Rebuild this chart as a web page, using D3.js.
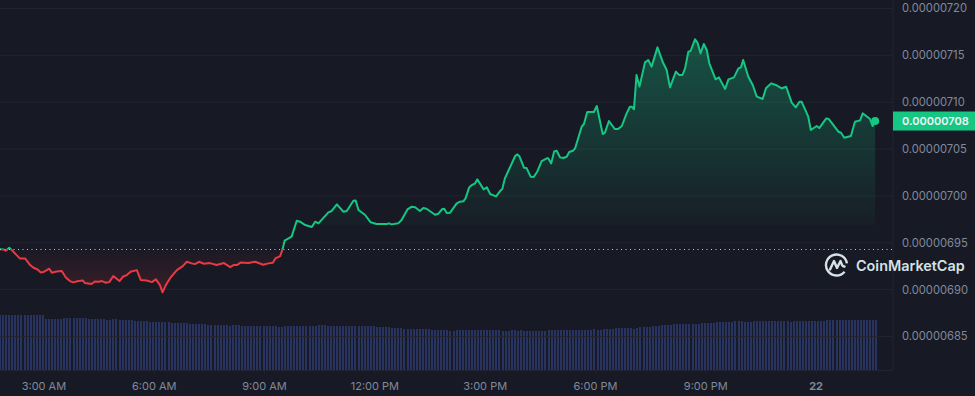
<!DOCTYPE html>
<html>
<head>
<meta charset="utf-8">
<script src="https://cdn.jsdelivr.net/npm/d3@7"></script>
<style>
  html, body { margin: 0; padding: 0; background: #171924; overflow: hidden; }
  text { font-family: Inter, "Noto Sans", sans-serif; }
</style>
</head>
<body>
<div id="chart"></div>
<script>
// hours since midnight of the 21st (24 = midnight, the "22" tick)
const times = [
  1.82,1.91,1.98,2.07,2.16,2.27,2.36,2.50,2.64,2.73,2.84,2.93,3.00,3.16,3.23,3.36,3.50,3.61,3.72,3.81,
  3.95,4.07,4.13,4.22,4.31,4.40,4.51,4.59,4.70,4.79,4.90,5.07,5.16,5.27,5.37,5.54,5.65,5.81,5.95,6.06,
  6.17,6.24,6.33,6.44,6.63,6.79,6.90,7.03,7.12,7.23,7.37,7.53,7.71,7.91,8.08,8.17,8.26,8.37,8.57,8.76,
  8.98,9.12,9.24,9.31,9.44,9.51,9.56,9.75,9.89,9.98,10.12,10.30,10.39,10.48,10.75,10.84,10.98,11.16,11.25,11.43,
  11.49,11.57,11.75,11.90,12.06,12.34,12.40,12.47,12.65,12.74,12.90,13.02,13.11,13.24,13.33,13.42,13.65,13.74,13.85,13.90,
  13.97,14.06,14.24,14.33,14.42,14.48,14.58,14.65,14.74,14.80,14.97,15.06,15.15,15.31,15.42,15.48,15.55,15.83,15.89,15.94,
  16.07,16.14,16.25,16.33,16.43,16.55,16.69,16.73,16.81,16.89,16.96,17.05,17.14,17.23,17.30,17.40,17.46,17.57,17.64,17.70,
  17.79,17.97,18.05,18.21,18.27,18.38,18.54,18.63,18.73,18.86,18.95,19.00,19.06,19.13,19.21,19.36,19.45,19.54,19.70,19.84,
  19.95,20.04,20.20,20.29,20.38,20.45,20.54,20.60,20.72,20.79,20.87,20.96,21.04,21.11,21.28,21.37,21.54,21.63,21.78,21.90,
  21.97,22.03,22.17,22.29,22.40,22.56,22.65,22.79,22.94,23.08,23.20,23.35,23.46,23.56,23.62,23.80,23.87,24.03,24.10,24.29,
  24.36,24.62,24.69,24.78,24.96,25.07,25.21,25.28,25.48,25.55,25.62
];
// price in units of 0.00000001
const prices = [
  694.27,694.24,694.10,694.42,694.10,693.63,693.28,693.28,692.57,692.28,692.10,691.78,691.82,692.18,691.75,691.89,691.93,691.25,690.86,690.72,
  690.86,690.93,690.65,690.61,690.54,690.82,690.79,690.86,690.68,690.75,691.39,690.86,691.32,691.50,691.86,692.03,690.97,690.93,690.75,691.04,
  690.43,689.65,690.43,691.14,692.03,692.46,692.92,692.75,692.67,692.92,692.71,692.78,692.57,692.78,692.35,692.57,692.57,692.85,692.78,692.92,
  692.60,692.75,692.82,693.28,693.53,694.35,695.17,695.60,697.30,697.20,696.84,696.63,697.20,697.02,698.19,698.34,699.05,698.26,698.34,699.44,
  699.47,698.44,697.91,697.13,696.95,696.95,697.02,696.91,697.02,697.38,698.51,698.80,698.73,698.34,698.66,698.58,697.94,698.05,698.55,698.58,
  698.12,698.16,699.15,699.33,699.37,699.69,700.86,701.11,701.29,701.71,700.65,700.86,700.15,699.90,700.47,700.68,701.82,704.21,704.38,704.21,
  702.96,702.92,702.00,701.96,702.53,703.67,703.96,703.96,703.42,704.70,704.77,704.06,703.99,704.13,704.63,704.77,705.02,706.45,707.34,707.62,
  708.90,708.90,709.54,706.55,706.70,707.94,707.09,707.09,707.41,708.76,709.47,709.47,709.19,712.85,711.61,714.20,714.45,713.74,715.80,714.27,
  713.38,711.53,713.21,712.85,712.85,713.56,715.34,715.41,716.66,716.30,715.16,716.16,715.52,714.10,712.39,712.60,711.36,712.39,712.60,713.56,
  713.67,714.45,712.67,711.78,710.54,710.29,711.43,711.96,711.75,711.43,711.60,709.90,709.40,710.00,710.00,708.40,706.98,707.41,707.19,708.22,
  708.15,706.80,706.69,706.16,706.34,707.87,708.01,708.76,708.15,707.41,707.94
];
// one volume reading every 5 minutes, relative scale
const volumes = [
  55,55,55,55,55,55,55,55,55,55,55,55,55,55,55,51,51,51,51,51,51,52,52,52,52,52,52,52,52,51,51,51,51,51,51,50.5,50.5,51,51,50,50,50,50,50,49,49,49,49,49,
  48,48,48,48,48,48,48,47,47,47,47,47,47,46,46,46,46,46,46,45,45,45,45,45,45,45,44,45,45,45,44,44,44,44,44,44,44,44,44,44,44,44,43,43,44,44,44,44,44,
  44,44,44,44,44,44,45,45,45,44,44,44,44,44,44,44,44,44,44,44,44,44,44,44,44,43,43,43,43,43,42,42,42,42,41,41,41,41,41,41,41,41,41,40,40,40,40,40,40,
  39,39,40,40,40,40,40,40,40,40,40,40,40,40,40,40,40,39,39,39,40,40,39,40,39,39,39,39,39,39,39,39,40,40,40,40,40,40,40,40,40,40,40,40,40,40,40,41,40,
  40,41,41,41,41,42,42,42,42,42,42,41,42,43,43,43,43,44,44,44,45,45,45,45,46,46,46,46,46,46,46,46,46,47,47,47,47,47,48,48,48,48,48,48,49,49,49,48,48,
  48,49,49,49,49,49,49,49,49,49,49,49,49,48,49,49,49,49,49,49,49,49,49,49,49,50,50,50,50,50,50,50,50,50,50,50,50,50,50,50,50,50
];
const volumeStart = 1.82;

const basePrice = 694.23;
const priceTicks = [685, 690, 695, 700, 705, 710, 715, 720];
const timeTicks = [3, 6, 9, 12, 15, 18, 21, 24];
const timeLabels = ["3:00 AM", "6:00 AM", "9:00 AM", "12:00 PM", "3:00 PM", "6:00 PM", "9:00 PM", "22"];

let width = 975, height = 396;
let plotRight = 893, plotBottom = 370;
let green = "#16c784", red = "#ea3943";

let x = d3.scaleLinear().domain([3, 24]).range([43.4, 815.6]);
let y = d3.scaleLinear().domain([685, 720]).range([336, 8]);
let yVol = d3.scaleLinear().domain([0, 55]).range([plotBottom, 315]);
let fmt = v => (v * 1e-8).toFixed(8);

let points = times.map((t, i) => ({ t: t, p: prices[i] }));
let last = points[points.length - 1];

const svg = d3.select("#chart").append("svg")
  .attr("width", width)
  .attr("height", height)
  .style("display", "block")
  .style("background", "#171924");

const defs = svg.append("defs");

defs.append("clipPath").attr("id", "clipAbove").append("rect")
  .attr("x", 0).attr("y", 0).attr("width", plotRight).attr("height", y(basePrice));
defs.append("clipPath").attr("id", "clipBelow").append("rect")
  .attr("x", 0).attr("y", y(basePrice)).attr("width", plotRight).attr("height", plotBottom - y(basePrice));

let upGrad = defs.append("linearGradient").attr("id", "upFill")
  .attr("gradientUnits", "userSpaceOnUse")
  .attr("x1", 0).attr("x2", 0).attr("y1", 40).attr("y2", y(basePrice));
upGrad.append("stop").attr("offset", "0%").attr("stop-color", green).attr("stop-opacity", 0.33);
upGrad.append("stop").attr("offset", "88%").attr("stop-color", green).attr("stop-opacity", 0.03);
upGrad.append("stop").attr("offset", "88.5%").attr("stop-color", green).attr("stop-opacity", 0);

let downGrad = defs.append("linearGradient").attr("id", "downFill")
  .attr("gradientUnits", "userSpaceOnUse")
  .attr("x1", 0).attr("x2", 0).attr("y1", y(basePrice)).attr("y2", 292);
downGrad.append("stop").attr("offset", "0%").attr("stop-color", red).attr("stop-opacity", 0.02);
downGrad.append("stop").attr("offset", "100%").attr("stop-color", red).attr("stop-opacity", 0.16);

// volume bars, snapped to whole pixels so the gaps stay visible
svg.append("g").selectAll("rect")
  .data(volumes)
  .join("rect")
  .attr("x", (d, i) => Math.round(x(volumeStart + i / 12) - 1))
  .attr("y", d => Math.round(yVol(d)))
  .attr("width", 2)
  .attr("height", d => plotBottom - Math.round(yVol(d)))
  .attr("fill", "#28345f");

// grid + price labels
const yAxis = d3.axisRight(y).tickValues(priceTicks).tickFormat(fmt).tickSize(0).tickPadding(9);
const yG = svg.append("g").attr("transform", "translate(" + plotRight + ",0)").call(yAxis);
yG.select(".domain").remove();
yG.selectAll("text").attr("fill", "#808a9d").style("font-size", "11.2px").attr("dy", "0.35em");
yG.selectAll(".tick").append("line")
  .attr("x1", -plotRight).attr("x2", 0)
  .attr("stroke", "#222531");

// frame
svg.append("line").attr("x1", plotRight).attr("x2", plotRight).attr("y1", 0).attr("y2", plotBottom).attr("stroke", "#222531");
const xAxis = d3.axisBottom(x).tickValues(timeTicks).tickFormat((d, i) => timeLabels[i]).tickSize(4).tickPadding(8);
const xG = svg.append("g").attr("transform", "translate(0," + plotBottom + ")").call(xAxis);
xG.select(".domain").attr("d", "M0,0.5H" + plotRight).attr("stroke", "#222531");
xG.selectAll(".tick line").attr("stroke", "#222531");
xG.selectAll("text").attr("fill", "#808a9d").style("font-size", "11px");
xG.selectAll(".tick").filter(d => d === 24).select("text").style("font-weight", 700);

// area + line, split at the open price
let area = d3.area().x(d => x(d.t)).y0(y(basePrice)).y1(d => y(d.p));
let line = d3.line().x(d => x(d.t)).y(d => y(d.p));

svg.append("path").datum(points).attr("d", area).attr("fill", "url(#upFill)").attr("clip-path", "url(#clipAbove)");
svg.append("path").datum(points).attr("d", area).attr("fill", "url(#downFill)").attr("clip-path", "url(#clipBelow)");
svg.append("path").datum(points).attr("d", line).attr("fill", "none").attr("stroke", green)
  .attr("stroke-width", 2).attr("stroke-linejoin", "round").attr("clip-path", "url(#clipAbove)");
svg.append("path").datum(points).attr("d", line).attr("fill", "none").attr("stroke", red)
  .attr("stroke-width", 2).attr("stroke-linejoin", "round").attr("clip-path", "url(#clipBelow)");

// open price dotted line
svg.append("line")
  .attr("x1", 0).attr("x2", plotRight)
  .attr("y1", y(basePrice)).attr("y2", y(basePrice))
  .attr("stroke", "#c4c9d4").attr("stroke-width", 1).attr("stroke-dasharray", "1 3.5");

// last price dot and tag
svg.append("circle").attr("cx", x(last.t)).attr("cy", y(last.p)).attr("r", 4).attr("fill", green);
svg.append("rect").attr("x", plotRight).attr("y", y(last.p) - 9.5).attr("width", width - plotRight).attr("height", 19).attr("fill", green);
svg.append("text").attr("x", plotRight + 9).attr("y", y(last.p)).attr("dy", "0.35em")
  .attr("fill", "#f2f5f7").style("font-size", "11px").style("font-weight", 600).text(fmt(last.p));

// watermark
const logo = svg.append("g").attr("transform", "translate(836.5,265)").attr("fill", "none").attr("stroke", "#d5e2e6");
logo.append("path").attr("stroke-width", 2.4).attr("stroke-linecap", "round")
  .attr("d", d3.arc()({ innerRadius: 10.5, outerRadius: 10.5, startAngle: Math.PI * 0.72, endAngle: Math.PI * 2.45 }));
logo.append("path").attr("stroke-width", 2.4).attr("stroke-linejoin", "round").attr("stroke-linecap", "round")
  .attr("d", "M-6.5,4.5 L-2.5,-4 L0.5,3 L4,-4 C5,-2 5.5,2 8,1.5");
svg.append("text").attr("x", 856).attr("y", 271)
  .attr("fill", "#d5e2e6").style("font-size", "14.4px").style("font-weight", 600).text("CoinMarketCap");
</script>
</body>
</html>
